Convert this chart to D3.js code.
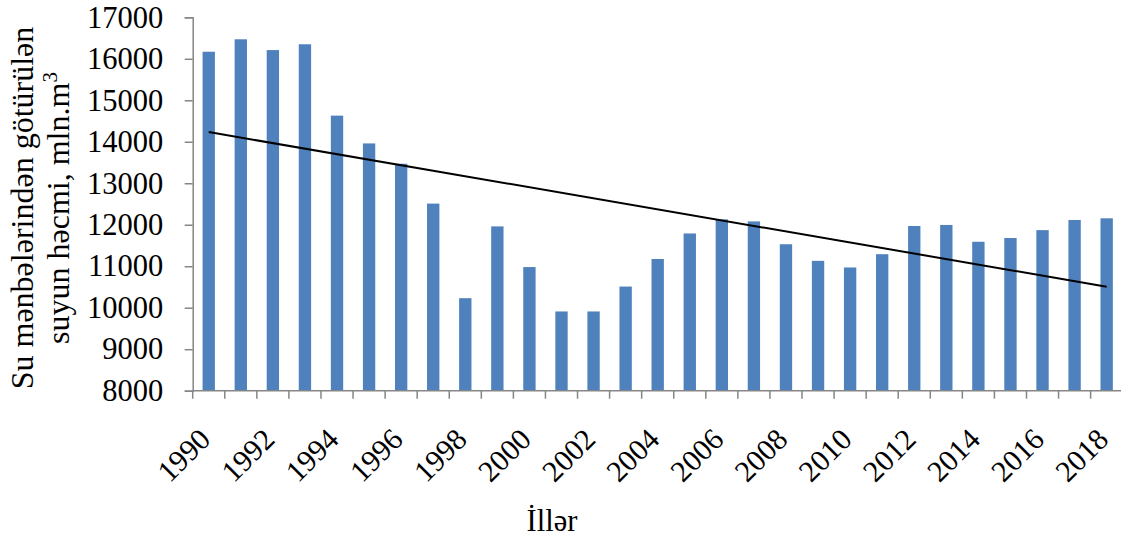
<!DOCTYPE html>
<html>
<head>
<meta charset="utf-8">
<script src="https://cdn.jsdelivr.net/npm/d3@7"></script>
<style>
  html, body { margin: 0; padding: 0; background: #fff; }
  svg { display: block; }
  text { font-family: "Liberation Serif", "Times New Roman", serif; fill: #000; }
</style>
</head>
<body>
<svg id="chart" width="1121" height="539"></svg>
<script>
// Water withdrawn from sources, mln. m3, by year
const years = [1990, 1991, 1992, 1993, 1994, 1995, 1996, 1997, 1998, 1999,
               2000, 2001, 2002, 2003, 2004, 2005, 2006, 2007, 2008, 2009,
               2010, 2011, 2012, 2013, 2014, 2015, 2016, 2017, 2018];
const volumes = [16170, 16470, 16210, 16350, 14630, 13960, 13470, 12510, 10230, 11960,
                 10980, 9910, 9910, 10510, 11175, 11790, 12130, 12080, 11530, 11130,
                 10970, 11290, 11970, 11995, 11590, 11680, 11870, 12115, 12155];
const yTicks = [8000, 9000, 10000, 11000, 12000, 13000, 14000, 15000, 16000, 17000];
const yTitleLines = ["Su mənbələrindən götürülən", "suyun həcmi, mln.m"];
const xTitle = "İllər";

const svg = d3.select("#chart");
const plotLeft = 192.7, plotRight = 1122.7, plotTop = 17.3, plotBottom = 390.7;
const axisColor = "#868686";
const fontSize = 30.5;

const x = d3.scaleBand().domain(years).range([plotLeft, plotRight]).paddingInner(0.615).paddingOuter(0.3075);
const xCat = d3.scaleBand().domain(years).range([plotLeft, plotRight]);
const y = d3.scaleLinear().domain([8000, 17000]).range([plotBottom, plotTop]);

// bars
svg.append("g").selectAll("rect")
  .data(years.map((yr, i) => ({ yr, v: volumes[i] })))
  .join("rect")
  .attr("x", d => x(d.yr))
  .attr("width", x.bandwidth())
  .attr("y", d => y(d.v))
  .attr("height", d => y(8000) - y(d.v))
  .attr("fill", "#4F81BD");

// linear trend (least squares over the yearly values)
const n = years.length;
const mx = d3.mean(years), my = d3.mean(volumes);
const slope = d3.sum(years, (yr, i) => (yr - mx) * (volumes[i] - my)) / d3.sum(years, yr => (yr - mx) ** 2);
const icpt = my - slope * mx;
const trendYears = [years[0], years[n - 1]];
svg.append("path")
  .attr("d", d3.line()(trendYears.map(yr => [xCat(yr) + xCat.bandwidth() / 2, y(icpt + slope * yr)])))
  .attr("stroke", "#000").attr("stroke-width", 2).attr("fill", "none");

// y axis
const yAxis = svg.append("g").attr("transform", `translate(${plotLeft},0)`)
  .call(d3.axisLeft(y).tickValues(yTicks).tickSize(8).tickPadding(21.5).tickFormat(d3.format("d")));
yAxis.select(".domain").attr("stroke", axisColor).attr("stroke-width", 1.5);
yAxis.selectAll(".tick line").attr("stroke", axisColor).attr("stroke-width", 1.5);
yAxis.selectAll("text").attr("font-size", fontSize).attr("font-family", "Liberation Serif").attr("fill", "#000");

// x axis: ticks on category boundaries
const xAxisG = svg.append("g");
xAxisG.append("line").attr("x1", plotLeft).attr("x2", plotRight).attr("y1", plotBottom).attr("y2", plotBottom)
  .attr("stroke", axisColor).attr("stroke-width", 1.5);
xAxisG.selectAll("line.tk").data(years.concat([null]))
  .join("line").attr("class", "tk")
  .attr("x1", (d, i) => plotLeft + i * xCat.step()).attr("x2", (d, i) => plotLeft + i * xCat.step())
  .attr("y1", plotBottom).attr("y2", plotBottom + 8)
  .attr("stroke", axisColor).attr("stroke-width", 1.5);
xAxisG.selectAll("text").data(years.filter((d, i) => i % 2 === 0))
  .join("text")
  .attr("transform", d => `translate(${xCat(d) + xCat.bandwidth() / 2 - 4},${plotBottom + 43}) rotate(-45)`)
  .attr("text-anchor", "end")
  .attr("dy", "0.35em")
  .attr("font-size", 30)
  .text(d => d);

// axis titles
svg.append("text").attr("x", 552).attr("y", 531).attr("text-anchor", "middle")
  .attr("font-size", fontSize).text(xTitle);

const yt = svg.append("text").attr("transform", "translate(0,208) rotate(-90)")
  .attr("text-anchor", "middle").attr("font-size", 32);
yt.append("tspan").attr("x", 0).attr("y", 33).text(yTitleLines[0]);
const l2 = yt.append("tspan").attr("x", 0).attr("y", 69).text(yTitleLines[1]);
l2.append("tspan").attr("baseline-shift", "super").attr("font-size", 21).text("3");
</script>
</body>
</html>
